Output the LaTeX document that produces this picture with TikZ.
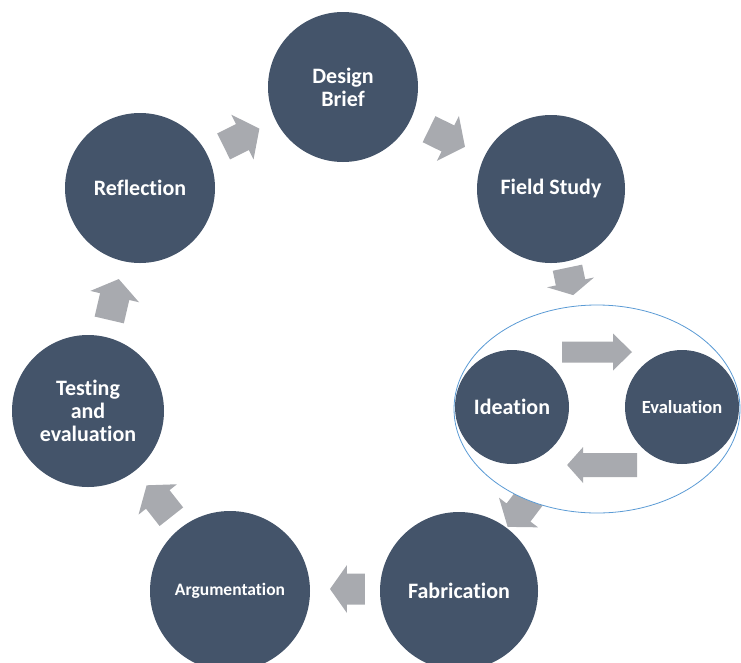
\documentclass[tikz,border=0pt]{standalone}
\usepackage{fontspec}
\setmainfont{Carlito}[Ligatures=NoCommon]
\usetikzlibrary{calc,shapes.geometric}
\pgfdeclarelayer{bg}
\pgfsetlayers{bg,main}
\definecolor{slate}{HTML}{44546A}
\definecolor{arrowgray}{HTML}{A8AAAF}
\definecolor{ellblue}{HTML}{5B9BD5}
% #1 from, #2 to, #3 fraction, #4 lateral offset, #5 length, #6 head length, #7 head half width, #8 tail half width
\newcommand\cyclearrow[8]{%
  \fill[arrowgray] let \p1=($(#2)-(#1)$), \n1={atan2(\y1,\x1)}, \p2=($(#1)!#3!(#2)$) in
    [shift={(\x2,\y2)}, rotate=\n1, yshift=#4pt]
    (-#5/2,-#8) -- (#5/2-#6,-#8) -- (#5/2-#6,-#7) -- (#5/2,0) -- (#5/2-#6,#7) -- (#5/2-#6,#8) -- (-#5/2,#8) -- cycle;}
\begin{document}
\begin{tikzpicture}[x=1pt,y=1pt,
  stage/.style={circle, fill=slate, text=white, font=\bfseries\fontsize{22}{23}\selectfont, align=center, inner sep=0pt},
  smallstage/.style={stage, font=\bfseries\fontsize{18}{20}\selectfont},
  cluster/.style={draw=ellblue, line width=0.8pt, fill=white, ellipse, inner sep=0pt}]
\useasboundingbox (0,0) rectangle (741,-662);
\clip (0,0) rectangle (741,-662);
\node[stage, minimum size=150] (brief) at (343,-87) {Design\\Brief};
\node[stage, minimum size=148] (field) at (551,-189) {Field Study};
\node[stage, minimum size=150] (refl) at (140,-188) {Reflection};
\node[stage, minimum size=152] (test) at (88,-411) {Testing\\and\\evaluation};
\node[smallstage, minimum size=160, font=\bfseries\fontsize{17.5}{20}\selectfont] (arg) at (230,-591) {Argumentation};
\node[stage, minimum size=158] (fab) at (459,-591) {Fabrication};
\node[cluster, minimum width=286, minimum height=208] (cl) at (597,-409) {};
\node[stage, minimum size=114] (ide) at (512,-407) {Ideation};
\node[smallstage, minimum size=114, font=\bfseries\fontsize{18.5}{20}\selectfont] (eva) at (682,-407) {Evaluation};
\cyclearrow{refl}{brief}{0.5}{0}{40}{19}{25}{14.5}
\cyclearrow{brief}{field}{0.5}{0}{40}{19}{25}{14.5}
\cyclearrow{field}{cl}{0.42}{0}{28}{13}{24}{15}
\begin{pgfonlayer}{bg}
\cyclearrow{cl}{fab}{0.56}{0}{40}{18}{24.5}{15}
\end{pgfonlayer}
\cyclearrow{fab}{arg}{0.487}{-2}{35}{17}{24}{15.5}
\cyclearrow{arg}{test}{0.5}{0}{40}{18}{24.5}{15}
\cyclearrow{test}{refl}{0.5}{0}{42}{18}{25}{15}
\cyclearrow{ide}{eva}{0.5}{55}{70}{19}{18.5}{10.5}
\cyclearrow{eva}{ide}{0.47}{58}{70}{16}{18}{12}
\end{tikzpicture}
\end{document}
